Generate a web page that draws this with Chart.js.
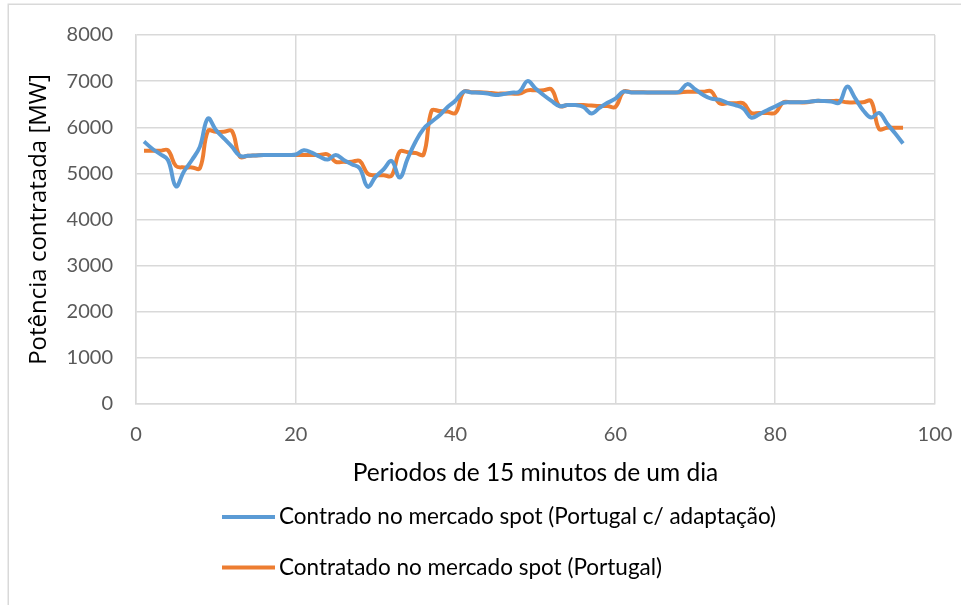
<!DOCTYPE html>
<html>
<head>
<meta charset="utf-8">
<script src="https://cdn.jsdelivr.net/npm/chart.js@4/dist/chart.umd.min.js"></script>
<style>
html,body{margin:0;padding:0;background:#fff;}
#wrap{position:relative;width:961px;height:605px;}
</style>
</head>
<body>
<div id="wrap"><canvas id="c" width="961" height="605"></canvas></div>
<script>
const periods = Array.from({length: 96}, (_, i) => i + 1);
const seriesNames = [
  "Contrado no mercado spot (Portugal c/ adaptação)",
  "Contratado no mercado spot (Portugal)"
];
const adaptado = [
  5690, 5540, 5420, 5290, 4720, 5040, 5290, 5580, 6190, 5940, 5760, 5580,
  5380, 5380, 5390, 5400, 5400, 5400, 5400, 5410, 5500, 5450, 5360, 5300,
  5400, 5290, 5200, 5110, 4710, 4930, 5090, 5270, 4910, 5320, 5690, 5970,
  6120, 6260, 6440, 6580, 6770, 6755, 6750, 6730, 6700, 6720, 6750, 6770,
  7000, 6840, 6700, 6570, 6460, 6480, 6480, 6440, 6300, 6420, 6530, 6620,
  6770, 6755, 6755, 6755, 6755, 6755, 6755, 6770, 6935, 6820, 6700, 6620,
  6600, 6530, 6480, 6410, 6210, 6280, 6370, 6450, 6530, 6540, 6540, 6550,
  6570, 6570, 6560, 6530, 6880, 6630, 6370, 6210, 6310, 6080, 5870, 5650
];
const portugal = [
  5490, 5490, 5490, 5500, 5160, 5130, 5130, 5110, 5920, 5900, 5900, 5920,
  5360, 5380, 5390, 5400, 5400, 5400, 5400, 5400, 5400, 5400, 5400, 5410,
  5250, 5250, 5250, 5270, 4990, 4960, 4960, 4950, 5470, 5460, 5440, 5410,
  6360, 6350, 6340, 6310, 6770, 6760, 6760, 6750, 6730, 6730, 6730, 6730,
  6800, 6800, 6800, 6820, 6460, 6480, 6480, 6480, 6470, 6460, 6460, 6440,
  6770, 6760, 6760, 6755, 6755, 6755, 6755, 6755, 6770, 6770, 6770, 6780,
  6520, 6520, 6520, 6520, 6310, 6310, 6310, 6310, 6540, 6540, 6540, 6540,
  6570, 6570, 6570, 6570, 6540, 6540, 6540, 6570, 5960, 5990, 5990, 5990
];
const xTicks = [0, 20, 40, 60, 80, 100];
const yTicks = [0, 1000, 2000, 3000, 4000, 5000, 6000, 7000, 8000];
const xTitle = "Periodos de 15 minutos de um dia";
const yTitle = "Potência contratada [MW]";

const BLUE = "#5B9BD5", ORANGE = "#ED7D31", GRID = "#d9d9d9";

const frameAndLegend = {
  id: "frameAndLegend",
  beforeDraw(chart) {
    const ctx = chart.ctx;
    ctx.save();
    ctx.fillStyle = "#fff";
    ctx.fillRect(0, 0, chart.width, chart.height);
    ctx.strokeStyle = GRID;
    ctx.lineWidth = 1.5;
    ctx.strokeRect(8.25, 4.25, 1200, 1200);
    ctx.restore();
  },
  afterDraw(chart) {
    const ctx = chart.ctx;
    ctx.save();
    const rows = [517, 567.5];
    chart.data.datasets.forEach((ds, i) => {
      const y = rows[i];
      ctx.strokeStyle = ds.borderColor;
      ctx.lineWidth = 4;
      ctx.lineCap = "butt";
      ctx.beginPath();
      ctx.moveTo(222, y);
      ctx.lineTo(275, y);
      ctx.stroke();
      ctx.fillStyle = "#000";
      ctx.font = "22.5px Lato";
      ctx.textBaseline = "middle";
      ctx.textAlign = "left";
      ctx.fillText(ds.label, 279, y);
    });
    ctx.restore();
  }
};

new Chart(document.getElementById("c"), {
  type: "line",
  data: {
    datasets: [
      {
        label: seriesNames[0],
        data: periods.map((p, i) => ({x: p, y: adaptado[i]})),
        borderColor: BLUE,
        backgroundColor: BLUE,
        borderWidth: 4,
        pointRadius: 0,
        tension: 0.4,
        fill: false
      },
      {
        label: seriesNames[1],
        data: periods.map((p, i) => ({x: p, y: portugal[i]})),
        borderColor: ORANGE,
        backgroundColor: ORANGE,
        borderWidth: 4,
        pointRadius: 0,
        tension: 0.4,
        fill: false
      }
    ]
  },
  options: {
    responsive: false,
    animation: false,
    layout: {padding: {top: 35, right: 26, bottom: 115, left: 0}},
    plugins: {legend: {display: false}, tooltip: {enabled: false}},
    scales: {
      x: {
        type: "linear",
        min: 0, max: 100,
        afterBuildTicks: s => { s.ticks = xTicks.map(v => ({value: v})); },
        afterFit: s => { s.height = 86; s.paddingLeft = 0; s.paddingRight = 0; },
        grid: {color: GRID, lineWidth: 1.5, drawTicks: false},
        border: {color: GRID, width: 1.5},
        ticks: {color: "#595959", font: {family: "Lato", size: 20}, padding: 19, maxRotation: 0, callback: v => String(v)},
        title: {display: true, text: xTitle, color: "#000", font: {family: "Lato", size: 24.5}, padding: {top: 0, bottom: 2}}
      },
      y: {
        min: 0, max: 8000,
        afterBuildTicks: s => { s.ticks = yTicks.map(v => ({value: v})); },
        afterFit: s => { s.width = 136; s.paddingTop = 0; s.paddingBottom = 0; },
        grid: {color: GRID, lineWidth: 1.5, drawTicks: false},
        border: {color: GRID, width: 1.5},
        ticks: {color: "#595959", font: {family: "Lato", size: 20}, padding: 23, callback: v => String(v)},
        title: {display: true, text: yTitle, color: "#000", font: {family: "Open Sans", size: 24}, padding: {top: 25, bottom: 0}}
      }
    }
  },
  plugins: [frameAndLegend]
});
</script>
</body>
</html>
